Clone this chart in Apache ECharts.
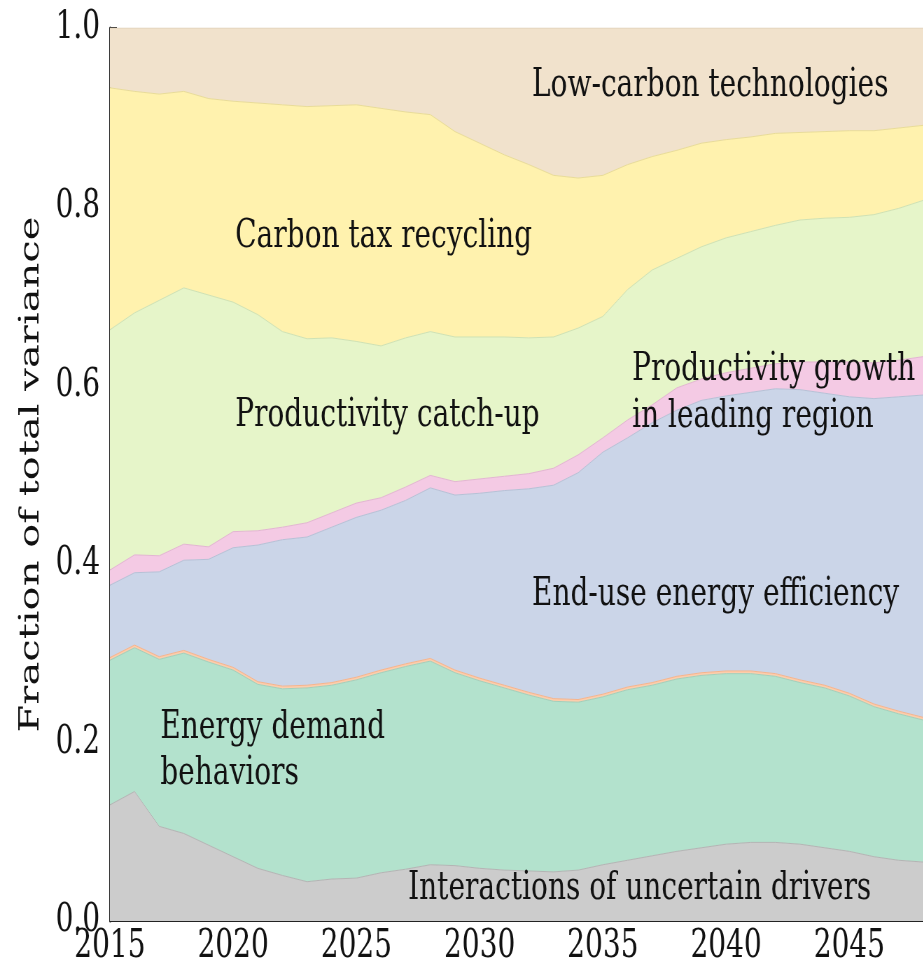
<!DOCTYPE html>
<html>
<head>
<meta charset="utf-8">
<script src="https://cdn.jsdelivr.net/npm/echarts@6/dist/echarts.min.js"></script>
<style>
html, body { margin: 0; padding: 0; background: #fff; overflow: hidden; }
/* the reference figure is squeezed horizontally, so draw wide and squeeze */
#main { width: 1319px; height: 969px; transform: scaleX(0.7); transform-origin: 0 0; }
</style>
</head>
<body>
<div id="main"></div>
<script>
var years = ['2015', '2016', '2017', '2018', '2019', '2020', '2021', '2022', '2023', '2024', '2025', '2026',
    '2027', '2028', '2029', '2030', '2031', '2032', '2033', '2034', '2035', '2036', '2037', '2038',
    '2039', '2040', '2041', '2042', '2043', '2044', '2045', '2046', '2047', '2048'];

// fraction of total variance per driver, bottom layer first
var interactions = [0.130, 0.145, 0.106, 0.098, 0.085, 0.072, 0.059, 0.051, 0.044, 0.047, 0.048, 0.054,
    0.058, 0.063, 0.062, 0.059, 0.057, 0.056, 0.055, 0.057, 0.063, 0.068, 0.073, 0.078,
    0.082, 0.086, 0.088, 0.088, 0.086, 0.082, 0.078, 0.072, 0.068, 0.066];
var demandBehaviors = [0.162, 0.161, 0.187, 0.202, 0.205, 0.209, 0.206, 0.209, 0.217, 0.217, 0.222, 0.224,
    0.227, 0.228, 0.216, 0.210, 0.204, 0.197, 0.191, 0.188, 0.188, 0.191, 0.191, 0.193,
    0.193, 0.191, 0.189, 0.186, 0.181, 0.179, 0.174, 0.168, 0.164, 0.159];
var otherDriver = [0.003, 0.003, 0.003, 0.003, 0.003, 0.003, 0.003, 0.003, 0.003, 0.003, 0.003, 0.003,
    0.003, 0.003, 0.003, 0.003, 0.003, 0.003, 0.003, 0.003, 0.003, 0.003, 0.003, 0.003,
    0.003, 0.003, 0.003, 0.003, 0.003, 0.003, 0.003, 0.003, 0.003, 0.003];
var endUseEfficiency = [0.081, 0.081, 0.095, 0.101, 0.112, 0.134, 0.153, 0.164, 0.166, 0.174, 0.179, 0.179,
    0.183, 0.191, 0.196, 0.207, 0.218, 0.228, 0.239, 0.254, 0.271, 0.279, 0.291, 0.298,
    0.305, 0.308, 0.312, 0.319, 0.325, 0.327, 0.332, 0.342, 0.352, 0.361];
var productivityGrowth = [0.017, 0.020, 0.018, 0.018, 0.014, 0.018, 0.016, 0.014, 0.016, 0.016, 0.016, 0.014,
    0.015, 0.014, 0.015, 0.016, 0.016, 0.017, 0.019, 0.020, 0.016, 0.020, 0.020, 0.025,
    0.024, 0.026, 0.027, 0.028, 0.031, 0.035, 0.039, 0.040, 0.041, 0.043];
var productivityCatchUp = [0.269, 0.271, 0.286, 0.287, 0.282, 0.257, 0.242, 0.219, 0.206, 0.196, 0.181, 0.170,
    0.167, 0.161, 0.162, 0.159, 0.156, 0.152, 0.147, 0.142, 0.136, 0.146, 0.151, 0.145,
    0.148, 0.151, 0.153, 0.155, 0.159, 0.161, 0.162, 0.166, 0.170, 0.175];
var carbonTaxRecycling = [0.271, 0.248, 0.231, 0.220, 0.220, 0.225, 0.237, 0.254, 0.260, 0.260, 0.265, 0.266,
    0.253, 0.243, 0.230, 0.217, 0.204, 0.194, 0.181, 0.168, 0.158, 0.140, 0.127, 0.121,
    0.116, 0.110, 0.106, 0.103, 0.098, 0.097, 0.097, 0.094, 0.090, 0.084];
var lowCarbonTech = [0.067, 0.071, 0.074, 0.071, 0.079, 0.082, 0.084, 0.086, 0.088, 0.087, 0.086, 0.090,
    0.094, 0.097, 0.116, 0.129, 0.142, 0.153, 0.165, 0.168, 0.165, 0.153, 0.144, 0.137,
    0.129, 0.125, 0.122, 0.118, 0.117, 0.116, 0.115, 0.115, 0.112, 0.109];

var yTicks = [0, 0.2, 0.4, 0.6, 0.8, 1.0];

var layers = [
    {name: 'Interactions of uncertain drivers', data: interactions, fill: '#cccccc', edge: '#b4b4b4'},
    {name: 'Energy demand behaviors', data: demandBehaviors, fill: '#b3e2cd', edge: '#a2cfbb'},
    {name: 'Other', data: otherDriver, fill: '#fdcdac', edge: '#f6b48c'},
    {name: 'End-use energy efficiency', data: endUseEfficiency, fill: '#cbd5e8', edge: '#b6c1d6'},
    {name: 'Productivity growth in leading region', data: productivityGrowth, fill: '#f4cae4', edge: '#e3b5d2'},
    {name: 'Productivity catch-up', data: productivityCatchUp, fill: '#e6f5c9', edge: '#cfe2b4'},
    {name: 'Carbon tax recycling', data: carbonTaxRecycling, fill: '#fff2ae', edge: '#e9dc98'},
    {name: 'Low-carbon technologies', data: lowCarbonTech, fill: '#f1e2cc', edge: '#e0cfb8'}
];

var serif = '"DejaVu Serif", serif';

var seriesData = layers.map(function (l) {
    return {
        name: l.name,
        type: 'line',
        stack: 'total',
        symbol: 'none',
        silent: true,
        data: l.data,
        lineStyle: {width: 1, color: l.edge},
        areaStyle: {color: l.fill, opacity: 1}
    };
});

function label(text, x, y, lh) {
    return {
        type: 'text',
        x: x,
        y: y,
        z: 100,
        style: {
            text: text,
            font: '40px ' + serif,
            fill: '#111',
            verticalAlign: 'middle',
            lineHeight: lh || 47
        }
    };
}

var myChart = echarts.init(document.getElementById('main'));

var option = {
    backgroundColor: '#fff',
    animation: false,
    grid: {left: 157, top: 28, width: 1167, bottom: 48, containLabel: false},
    xAxis: {
        type: 'category',
        data: years,
        boundaryGap: false,
        axisLine: {show: true, lineStyle: {color: '#222', width: 2}},
        axisTick: {show: true, inside: true, interval: 4, length: 10, lineStyle: {color: '#222', width: 1.5}},
        axisLabel: {
            color: '#111',
            fontFamily: serif,
            fontSize: 40,
            margin: 6,
            interval: 4
        },
        splitLine: {show: false}
    },
    yAxis: {
        type: 'value',
        min: 0,
        max: 1,
        interval: 0.2,
        name: 'Fraction of total variance',
        nameLocation: 'middle',
        nameGap: 92,
        nameTextStyle: {color: '#111', fontFamily: serif, fontSize: 40},
        axisLine: {show: true, lineStyle: {color: '#222', width: 3}},
        axisTick: {show: true, inside: true, length: 10, lineStyle: {color: '#222', width: 2}},
        axisLabel: {
            color: '#111',
            fontFamily: serif,
            fontSize: 40,
            margin: 14,
            formatter: function (v) {
                var t = yTicks.filter(function (k) { return Math.abs(k - v) < 1e-9; });
                return t.length ? t[0].toFixed(1) : '';
            }
        },
        splitLine: {show: false}
    },
    series: seriesData,
    graphic: [
        label('Low-carbon technologies', 760, 86),
        label('Carbon tax recycling', 336, 237),
        label('Productivity catch-up', 336, 416),
        label('Productivity growth\nin leading region', 903, 393),
        label('End-use energy efficiency', 760, 595),
        label('Energy demand\nbehaviors', 229, 751, 46),
        label('Interactions of uncertain drivers', 583, 889)
    ]
};

myChart.setOption(option);
</script>
</body>
</html>
